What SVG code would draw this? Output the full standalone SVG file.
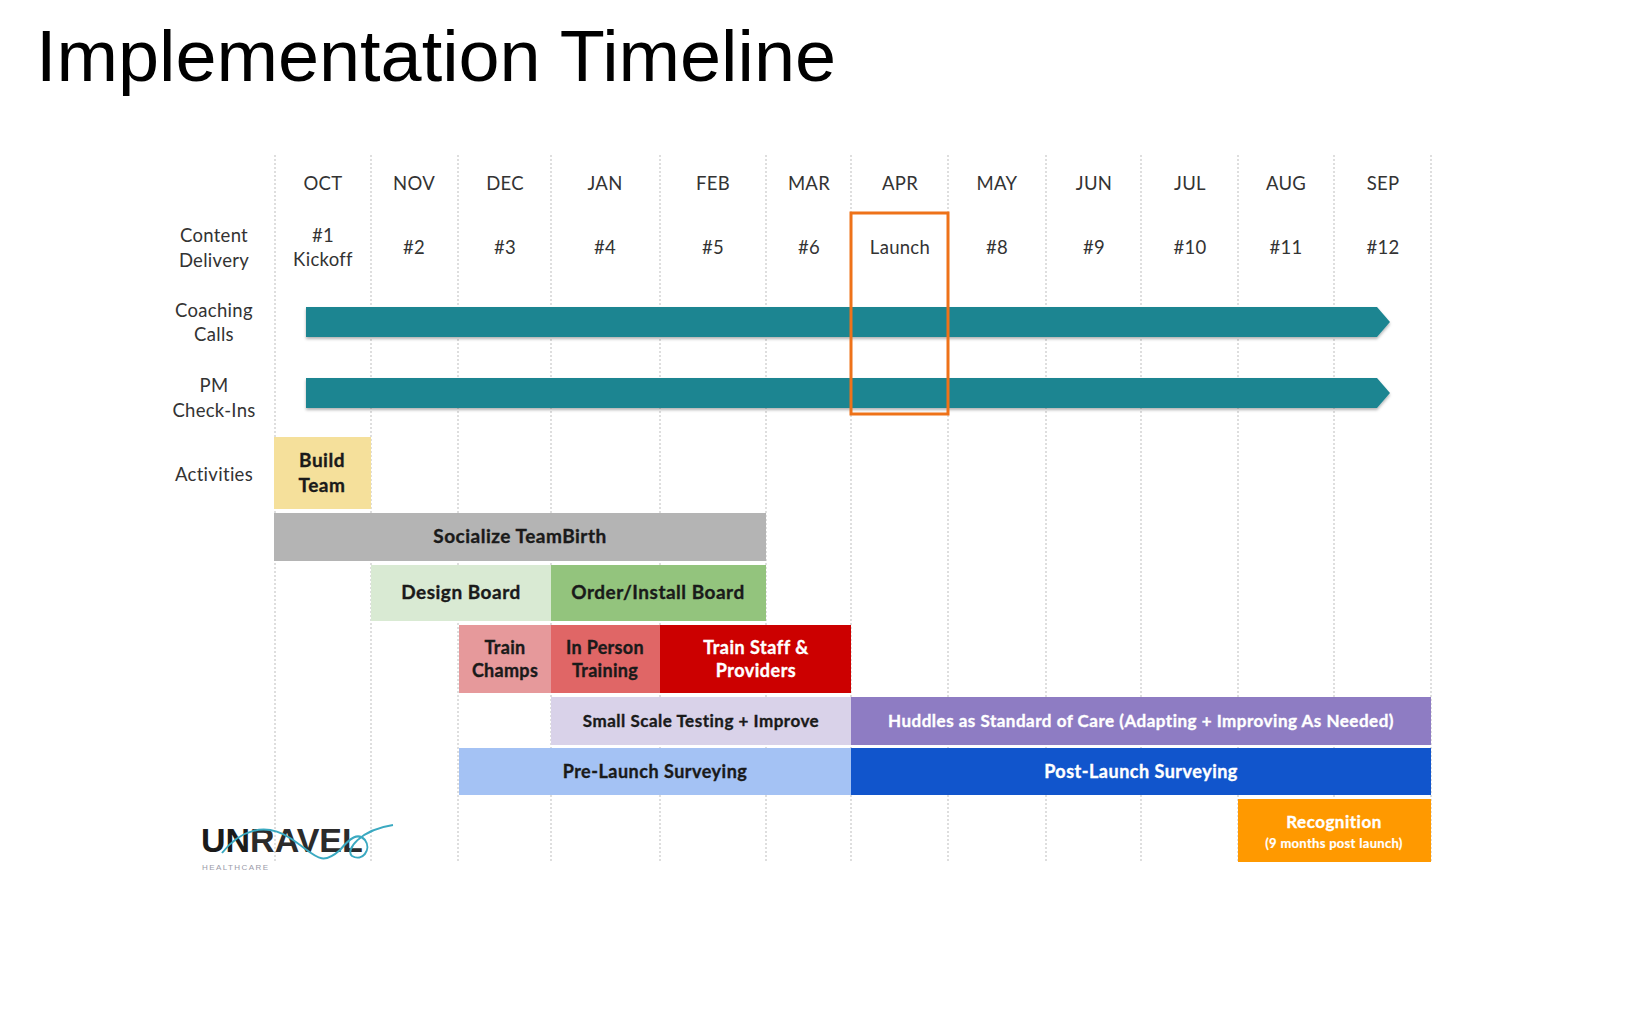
<svg xmlns="http://www.w3.org/2000/svg" width="1628" height="1016" viewBox="0 0 1628 1016">
<style>
  .title { font-family: "Liberation Sans", Arial, sans-serif; font-size: 72px; fill: #000; }
  .lbl { font-family: Lato, "Liberation Sans", sans-serif; font-size: 18.5px; letter-spacing: 0.3px; fill: #333; text-anchor: middle; }
  .bar { font-family: Lato, "Liberation Sans", sans-serif; font-size: 18px; letter-spacing: 0.5px; font-weight: bold; fill: #1a1a1a; text-anchor: middle; stroke: #1a1a1a; stroke-width: 0.35; }
  .w { fill: #ffffff; stroke: #ffffff; }
  .grid { stroke: #d4d4d4; stroke-width: 1.5; stroke-dasharray: 2 2; fill: none; }
  .teal { fill: #1E8591; }
</style>
<defs>
  <filter id="sh" x="-5%" y="-30%" width="110%" height="170%">
    <feDropShadow dx="0" dy="2" stdDeviation="1.5" flood-color="#000" flood-opacity="0.3"/>
  </filter>
</defs>
<rect width="1628" height="1016" fill="#fff"/>
<text class="title" x="36" y="81" textLength="800" lengthAdjust="spacingAndGlyphs">Implementation Timeline</text>

<g id="grid">
  <line class="grid" x1="275" y1="155" x2="275" y2="862"/>
  <line class="grid" x1="371" y1="155" x2="371" y2="862"/>
  <line class="grid" x1="458" y1="155" x2="458" y2="862"/>
  <line class="grid" x1="551" y1="155" x2="551" y2="862"/>
  <line class="grid" x1="660" y1="155" x2="660" y2="862"/>
  <line class="grid" x1="766" y1="155" x2="766" y2="862"/>
  <line class="grid" x1="851" y1="155" x2="851" y2="862"/>
  <line class="grid" x1="948" y1="155" x2="948" y2="862"/>
  <line class="grid" x1="1046" y1="155" x2="1046" y2="862"/>
  <line class="grid" x1="1141" y1="155" x2="1141" y2="862"/>
  <line class="grid" x1="1238" y1="155" x2="1238" y2="862"/>
  <line class="grid" x1="1334" y1="155" x2="1334" y2="862"/>
  <line class="grid" x1="1431" y1="155" x2="1431" y2="862"/>
</g>

<g id="months">
  <text class="lbl" x="323" y="190">OCT</text>
  <text class="lbl" x="414" y="190">NOV</text>
  <text class="lbl" x="505" y="190">DEC</text>
  <text class="lbl" x="605" y="190">JAN</text>
  <text class="lbl" x="713" y="190">FEB</text>
  <text class="lbl" x="809" y="190">MAR</text>
  <text class="lbl" x="900" y="190">APR</text>
  <text class="lbl" x="997" y="190">MAY</text>
  <text class="lbl" x="1094" y="190">JUN</text>
  <text class="lbl" x="1190" y="190">JUL</text>
  <text class="lbl" x="1286" y="190">AUG</text>
  <text class="lbl" x="1383" y="190">SEP</text>
</g>

<g id="row-labels">
  <text class="lbl" x="214" y="242">Content</text>
  <text class="lbl" x="214" y="267">Delivery</text>
  <text class="lbl" x="214" y="317">Coaching</text>
  <text class="lbl" x="214" y="341">Calls</text>
  <text class="lbl" x="214" y="392">PM</text>
  <text class="lbl" x="214" y="417">Check-Ins</text>
  <text class="lbl" x="214" y="481">Activities</text>
</g>

<g id="content-delivery">
  <text class="lbl" x="323" y="242">#1</text>
  <text class="lbl" x="323" y="266">Kickoff</text>
  <text class="lbl" x="414" y="254">#2</text>
  <text class="lbl" x="505" y="254">#3</text>
  <text class="lbl" x="605" y="254">#4</text>
  <text class="lbl" x="713" y="254">#5</text>
  <text class="lbl" x="809" y="254">#6</text>
  <text class="lbl" x="900" y="254">Launch</text>
  <text class="lbl" x="997" y="254">#8</text>
  <text class="lbl" x="1094" y="254">#9</text>
  <text class="lbl" x="1190" y="254">#10</text>
  <text class="lbl" x="1286" y="254">#11</text>
  <text class="lbl" x="1383" y="254">#12</text>
</g>

<g id="coaching-calls">
  <path class="teal" filter="url(#sh)" d="M306,307 H1377 L1390,322 L1377,337 H306 Z"/>
</g>
<g id="pm-checkins">
  <path class="teal" filter="url(#sh)" d="M306,378 H1377 L1390,393 L1377,408 H306 Z"/>
</g>

<g id="launch-highlight">
  <rect x="851" y="213" width="97" height="201" fill="none" stroke="#EE7219" stroke-width="3"/>
</g>

<g id="build-team">
  <rect x="274" y="437" width="97" height="72" fill="#F5E09B"/>
  <text class="bar" x="322" y="467" style="font-size:19px">Build</text>
  <text class="bar" x="322" y="492" style="font-size:19px">Team</text>
</g>
<g id="socialize">
  <rect x="274" y="513" width="492" height="48" fill="#B4B4B4"/>
  <text class="bar" x="520" y="543" style="font-size:19px">Socialize TeamBirth</text>
</g>
<g id="design-board">
  <rect x="371" y="565" width="180" height="56" fill="#D9EAD3"/>
  <text class="bar" x="461" y="599" style="font-size:19px">Design Board</text>
</g>
<g id="order-install">
  <rect x="551" y="565" width="215" height="56" fill="#93C47D"/>
  <text class="bar" x="658" y="599" style="font-size:19px">Order/Install Board</text>
</g>
<g id="train-champs">
  <rect x="459" y="625" width="92" height="68" fill="#E6999B"/>
  <text class="bar" x="505" y="654" style="letter-spacing:0.3px">Train</text>
  <text class="bar" x="505" y="677" style="letter-spacing:0.3px">Champs</text>
</g>
<g id="in-person">
  <rect x="551" y="625" width="109" height="68" fill="#E06666"/>
  <text class="bar" x="605" y="654" style="letter-spacing:0.3px">In Person</text>
  <text class="bar" x="605" y="677" style="letter-spacing:0.3px">Training</text>
</g>
<g id="train-staff">
  <rect x="660" y="625" width="191" height="68" fill="#CC0000"/>
  <text class="bar w" x="756" y="654">Train Staff &amp;</text>
  <text class="bar w" x="756" y="677">Providers</text>
</g>
<g id="small-scale">
  <rect x="551" y="697" width="300" height="48" fill="#D9D2E9"/>
  <text class="bar" x="701" y="727" style="font-size:17px">Small Scale Testing + Improve</text>
</g>
<g id="huddles">
  <rect x="851" y="697" width="580" height="48" fill="#8E7CC3"/>
  <text class="bar w" x="1141" y="727" style="font-size:17px">Huddles as Standard of Care (Adapting + Improving As Needed)</text>
</g>
<g id="pre-launch">
  <rect x="459" y="748" width="392" height="47" fill="#A4C2F4"/>
  <text class="bar" x="655" y="778">Pre-Launch Surveying</text>
</g>
<g id="post-launch">
  <rect x="851" y="748" width="580" height="47" fill="#1155CC"/>
  <text class="bar w" x="1141" y="778">Post-Launch Surveying</text>
</g>
<g id="recognition">
  <rect x="1238" y="799" width="193" height="63" fill="#FF9900"/>
  <text class="bar w" x="1334" y="828" style="font-size:17px">Recognition</text>
  <text class="bar w" x="1334" y="848" style="font-size:13px;stroke-width:0.2;letter-spacing:0.3px">(9 months post launch)</text>
</g>

<g id="logo">
  <text x="201" y="852" font-family="Liberation Sans, Arial, sans-serif" font-size="34" font-weight="bold" fill="#1a1a1a">UN<tspan fill="#2b2b2b" style="font-weight:600">RAVEL</tspan></text>
  <path d="M222,853 C240,830 265,822 290,838 S320,868 340,850 C350,838 358,832 365,840 C372,850 362,862 352,856 C345,850 360,830 393,825" fill="none" stroke="#3AA9C1" stroke-width="2"/>
  <text x="202" y="870" font-family="Liberation Sans, Arial, sans-serif" font-size="8" fill="#9a9aa8" textLength="66">HEALTHCARE</text>
</g>
</svg>
